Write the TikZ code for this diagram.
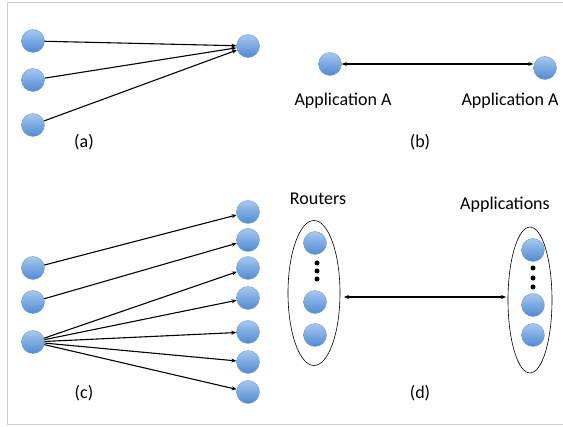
\documentclass[tikz,border=0pt]{standalone}
\usepackage{fontspec}
\setmainfont{Carlito}
\usetikzlibrary{arrows.meta,shapes.geometric}
\definecolor{balltop}{HTML}{A6C8EF}
\definecolor{ballbot}{HTML}{4F8BD3}
\definecolor{ballrim}{HTML}{6D9BD4}
\definecolor{framegray}{HTML}{D0D0D0}
\tikzset{
  ball/.style={circle, minimum size=23pt, inner sep=0pt, draw=ballrim, line width=0.4pt,
    top color=balltop, bottom color=ballbot},
  link/.style={line width=1.1pt, -{Stealth[length=5pt,width=4pt]}},
  duplex/.style={line width=1.1pt, {Stealth[length=5pt,width=4pt]}-{Stealth[length=5pt,width=4pt]}},
  group/.style={ellipse, draw=black, line width=0.6pt},
  lbl/.style={font=\fontsize{18pt}{20pt}\selectfont, inner sep=0pt},
  dot/.style={circle, fill=black, minimum size=5pt, inner sep=0pt}
}
\begin{document}
\begin{tikzpicture}[x=1pt, y=-1pt]
\useasboundingbox (0,0) rectangle (563,427);
% frame
\draw[framegray, line width=1pt] (563,3) -- (7,3) -- (7,425) -- (563,425);

% (a) many-to-one
\node[ball] (a1) at (33,41) {};
\node[ball] (a2) at (33,80) {};
\node[ball] (a3) at (33,125) {};
\node[ball] (a0) at (248,46) {};
\draw[link] (a1) -- (a0);
\draw[link] (a2) -- (a0);
\draw[link] (a3) -- (a0);
\node[lbl] (la) at (84,142) {(a)};

% (b) point-to-point
\node[ball] (b1) at (330,64) {};
\node[ball] (b2) at (545,68) {};
\draw[duplex] (b1.east) -- (b2.west |- b1.east);
\node[lbl] (lb1) at (343,101) {Application A};
\node[lbl] (lb2) at (510,101) {Application A};
\node[lbl] (lb) at (420,142) {(b)};

% (c) one-to-many fan out
\node[ball] (c1) at (33,268) {};
\node[ball] (c2) at (33,302) {};
\node[ball] (c3) at (33,342) {};
\node[ball] (r1) at (248,212) {};
\node[ball] (r2) at (248,240) {};
\node[ball] (r3) at (248,268) {};
\node[ball] (r4) at (248,298) {};
\node[ball] (r5) at (248,332) {};
\node[ball] (r6) at (248,362) {};
\node[ball] (r7) at (248,392) {};
\draw[link] (c1) -- (r1);
\draw[link] (c2) -- (r2);
\foreach \t in {r3,r4,r5,r6,r7} \draw[link] (c3) -- (\t);
\node[lbl] (lc) at (84,393) {(c)};

% (d) group to group
\node[group, minimum width=52pt, minimum height=145pt] (g1) at (314,293) {};
\node[group, minimum width=44pt, minimum height=146pt] (g2) at (530,300) {};
\node[ball] (d1) at (315,243) {};
\node[dot] (d1a) at (317,263) {};
\node[dot] (d1b) at (317,271) {};
\node[dot] (d1c) at (317,279) {};
\node[ball] (d2) at (315,302) {};
\node[ball] (d3) at (315,335) {};
\node[ball] (e1) at (533,250) {};
\node[dot] (e1a) at (533,268) {};
\node[dot] (e1b) at (533,278) {};
\node[dot] (e1c) at (533,287) {};
\node[ball] (e2) at (533,305) {};
\node[ball] (e3) at (533,335) {};
\coordinate (dl) at (344,297);
\coordinate (dr) at (506,297);
\draw[duplex] (dl) -- (dr);
\node[lbl] (lr) at (318,199) {Routers};
\node[lbl] (lap) at (505,205) {Applications};
\node[lbl] (ld) at (420,393) {(d)};
\end{tikzpicture}
\end{document}
